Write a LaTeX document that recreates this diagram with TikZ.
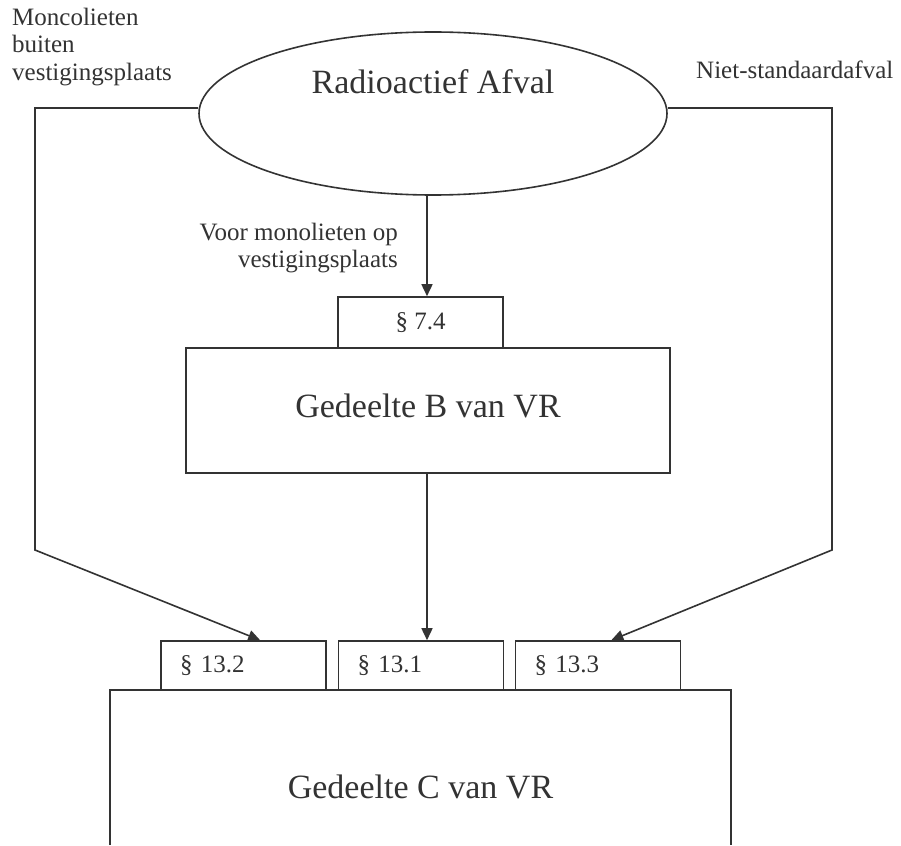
\documentclass[tikz,border=0pt]{standalone}
\usepackage{fontspec}
\setmainfont{Liberation Serif}
\usetikzlibrary{shapes.geometric,arrows.meta,calc}
\definecolor{ink}{HTML}{333333}
\begin{document}
\begin{tikzpicture}[x=1pt,y=-1pt,
  every node/.style={text=ink},
  conn/.style={draw=ink,line width=1.6pt},
  arr/.style={conn,-{Triangle[length=12pt,width=11pt]}},
  big/.style={font=\fontsize{34}{40}\selectfont},
  small/.style={font=\fontsize{25}{27.5}\selectfont},
  box/.style={draw=ink,line width=1.6pt,rectangle,inner sep=0pt},
  parbox/.style={box,small,minimum height=49pt,text width=127pt,inner xsep=19pt,align=left},
  lbl/.style={small,inner sep=0pt}]
\useasboundingbox[fill=white] (0,0) rectangle (901,845);
\coordinate (ax) at (427,0);
\coordinate (lvl) at (0,108);
\coordinate (bot) at (0,845);

% ellipse
\node[ellipse,draw=ink,line width=1.6pt,minimum width=468pt,minimum height=163pt,inner sep=0pt] (ell) at (433,113.5) {};
\node[big,inner sep=0pt,anchor=base] (elltxt) at (433,94) {Radioactief Afval};

% part B
\node[box,small,minimum width=165pt,minimum height=51pt] (p74) at (420.5,322.5) {§ 7.4};
\node[box,big,minimum width=484pt,minimum height=125pt,text depth=10pt] (B) at (428,410.5) {Gedeelte B van VR};

% part C
\node[parbox] (p132) at (243.5,665.5) {§ 13.2};
\node[parbox] (p131) at (421,665.5) {§ 13.1};
\node[parbox] (p133) at (598,665.5) {§ 13.3};
\node[big,inner sep=0pt,minimum width=621pt,minimum height=193pt] (C) at (420.5,786.5) {Gedeelte C van VR};
\draw[conn] (C.north west |- bot) -- (C.north west) -- (C.north east) -- (C.north east |- bot);

% labels
\node[lbl,align=left,anchor=north west] (lblL) at (12,7.9) {Moncolieten\\buiten\\vestigingsplaats};
\node[lbl,anchor=base west] (lblR) at (696,79) {Niet-standaardafval};
\node[lbl,align=right,anchor=north east] (lblM) at (398,222.9) {Voor monolieten op\\vestigingsplaats};

% connectors
\draw[arr] (ell.south -| ax) -- (p74.north -| ax);
\draw[arr] (B.south -| ax) -- (p131.north -| ax);
\draw[arr] (ell.west |- lvl) -- (35,108) -- (35,550) -- ($(p132.north west)!0.6!(p132.north east)$);
\draw[arr] (ell.east |- lvl) -- (832,108) -- (832,550) -- ($(p133.north west)!0.58!(p133.north east)$);
\end{tikzpicture}
\end{document}
